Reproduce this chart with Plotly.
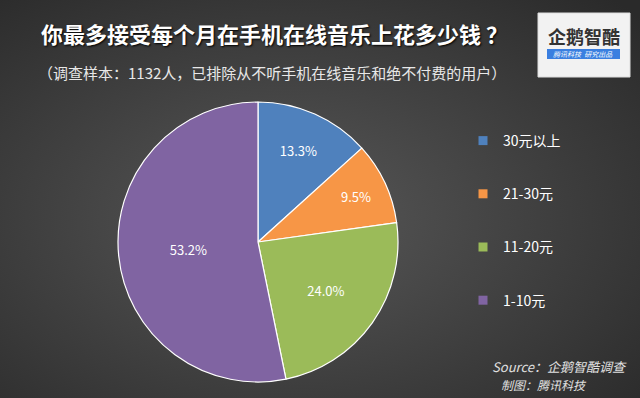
import plotly.graph_objects as go

categories = ["30元以上", "21-30元", "11-20元", "1-10元"]
values = [13.3, 9.5, 24.0, 53.2]
colors = ["#4F81BD", "#F79646", "#9BBB59", "#8064A2"]

title = "你最多接受每个月在手机在线音乐上花多少钱 ？"
subtitle = "（调查样本：1132人，已排除从不听手机在线音乐和绝不付费的用户）"
source1 = "Source：企鹅智酷调查"
source2 = "制图：腾讯科技"

FONT = "Noto Sans CJK SC, Microsoft YaHei, sans-serif"

fig = go.Figure()

fig.add_trace(go.Pie(
    labels=categories, values=values, sort=False, direction="clockwise", rotation=0,
    marker=dict(colors=colors, line=dict(color="white", width=1.2)),
    texttemplate="%{value:.1f}%", textposition="inside", insidetextorientation="horizontal",
    textfont=dict(color="white", size=13, family=FONT),
    domain=dict(x=[118/640, 398/640], y=[1-382/398, 1-102/398]),
    showlegend=False, hoverinfo="label+value",
))

for c, col in zip(categories, colors):
    fig.add_trace(go.Scatter(
        x=[None], y=[None], mode="markers", name=c, legendgroup=c,
        marker=dict(symbol="square", size=9, color=col),
    ))

svg = ("data:image/svg+xml;utf8,<svg xmlns='http://www.w3.org/2000/svg' width='640' height='398'>"
       "<defs><radialGradient id='g' cx='45%25' cy='55%25' r='75%25'>"
       "<stop offset='0' stop-color='%23585858'/><stop offset='1' stop-color='%232a2a2a'/>"
       "</radialGradient></defs><rect width='640' height='398' fill='url(%23g)'/></svg>")

fig.update_layout(
    width=640, height=398, margin=dict(l=0, r=0, t=0, b=0),
    paper_bgcolor="#3f3f3f", plot_bgcolor="rgba(0,0,0,0)",
    font=dict(family=FONT, color="white"),
    xaxis=dict(visible=False, domain=[0.9, 1]), yaxis=dict(visible=False, domain=[0, 0.1]),
    images=[dict(source=svg, xref="paper", yref="paper", x=0, y=1, sizex=1, sizey=1,
                 sizing="stretch", layer="below", xanchor="left", yanchor="top")],
    legend=dict(x=463/640, y=1-125/398, xanchor="left", yanchor="top",
                font=dict(size=14, color="white", family=FONT),
                tracegroupgap=32, bgcolor="rgba(0,0,0,0)", itemwidth=30),
    showlegend=True,
)

anns = [
    dict(text="<b>" + title + "</b>", x=274/640, y=1-33/398, font=dict(size=22, color="white",
         family=FONT, shadow="1px 1px 2px #000")),
    dict(text=subtitle, x=272/640, y=1-72/398, font=dict(size=15, color="#e8e8e8", family=FONT)),
    dict(text="<i>" + source1 + "</i>", x=629/640, y=1-366/398, xanchor="right",
         font=dict(size=13, color="#e0e0e0", family=FONT)),
    dict(text="<i>" + source2 + "</i>", x=499/640, y=1-384/398, xanchor="left",
         font=dict(size=12, color="#e0e0e0", family=FONT)),
    dict(text="<b>企鹅智酷</b>", x=584/640, y=1-36/398, font=dict(size=18, color="#333333", family=FONT)),
    dict(text="<i>腾讯科技  研究出品</i>", x=583/640, y=1-54/398, font=dict(size=7, color="white", family=FONT)),
]
for a in anns:
    a.update(xref="paper", yref="paper", showarrow=False)
    a.setdefault("xanchor", "center")
    a.setdefault("yanchor", "middle")
fig.update_layout(annotations=anns)

fig.update_layout(shapes=[
    dict(type="rect", xref="paper", yref="paper", x0=538/640, x1=630/640, y0=1-77/398, y1=1-13/398,
         fillcolor="#f2f2f2", line=dict(color="#dddddd", width=1), layer="above"),
    dict(type="rect", xref="paper", yref="paper", x0=547/640, x1=620/640, y0=1-59/398, y1=1-49/398,
         fillcolor="#3a7fe0", line=dict(width=0), layer="above"),
])

fig.write_html("out.html", config={"displayModeBar": False},
               post_script="document.body.style.margin='0';document.body.style.padding='0';")
